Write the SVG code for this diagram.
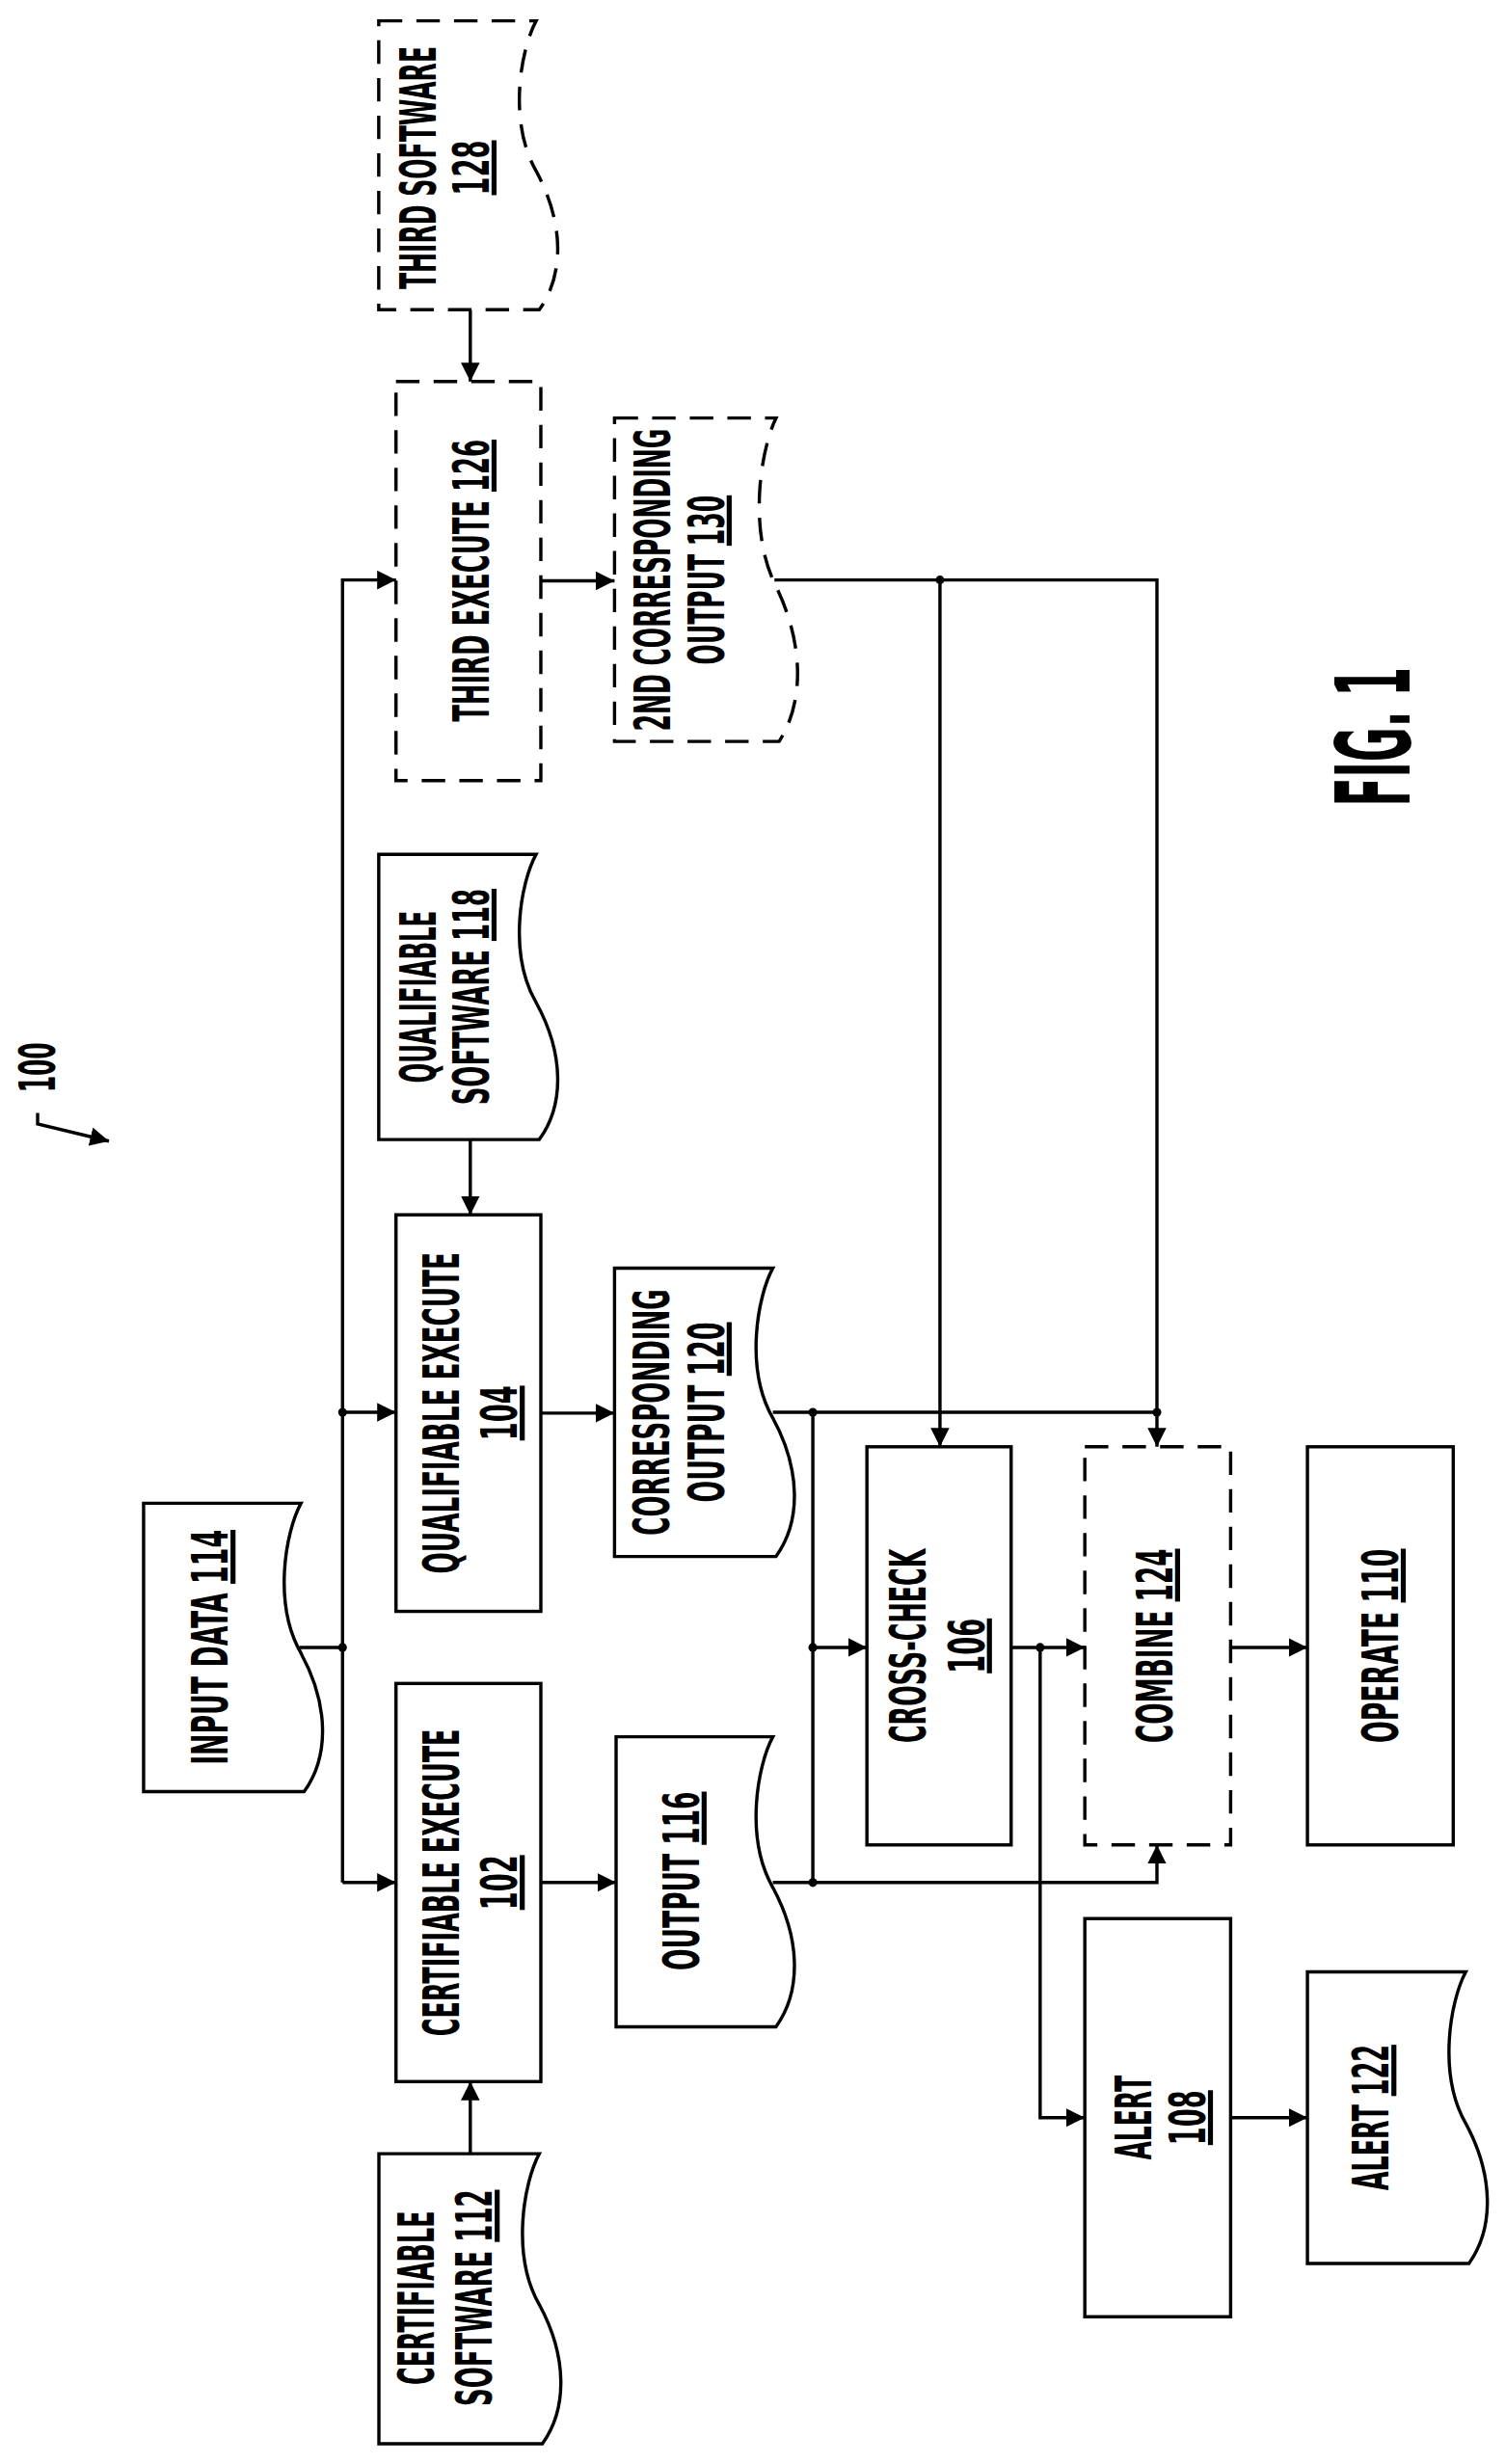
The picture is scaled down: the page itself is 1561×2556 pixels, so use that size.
<svg xmlns="http://www.w3.org/2000/svg" width="1561" height="2556" viewBox="0 0 1561 2556">
<style>
.b{fill:#fff;stroke:#000;stroke-width:2.1}
.d{fill:#fff;stroke:#000;stroke-width:2.1;stroke-dasharray:15 9}
.c{fill:none;stroke:#000;stroke-width:2.1}
.t{font-family:"DejaVu Sans Condensed","Liberation Sans",sans-serif;font-size:32px;font-weight:bold;text-anchor:middle;fill:#000}
.u{text-decoration:underline}
</style>
<defs>
<marker id="a" markerUnits="userSpaceOnUse" markerWidth="13" markerHeight="13" refX="12" refY="6" orient="auto"><path d="M0,0 L12,6 L0,12 z" fill="#000"/></marker>
</defs>
<rect width="1561" height="2556" fill="#fff"/>
<g transform="scale(1.626)">
<g id="n128"><path class="d" d="M241.6,13.3 H342 C332,31.7 324,77.8 342,109.1 C360,142.3 360,175.5 344,197.6 H241.6 Z"/>
<text class="t" transform="translate(277.7,107) rotate(-90)" textLength="155" lengthAdjust="spacingAndGlyphs">THIRD SOFTWARE</text>
<text class="t" transform="translate(311.7,107) rotate(-90)" textLength="35" lengthAdjust="spacingAndGlyphs"><tspan class="u">128</tspan></text></g>
<g id="n126"><rect class="d" x="252.6" y="243.4" width="92.4" height="254.6"/>
<text class="t" transform="translate(311.7,370.5) rotate(-90)" textLength="180" lengthAdjust="spacingAndGlyphs">THIRD EXECUTE <tspan class="u">126</tspan></text></g>
<g id="n130"><path class="d" d="M392,266.7 H495 C485,287.3 477,338.9 495,374 C513,411.1 513,448.2 497,473 H392 Z"/>
<text class="t" transform="translate(427.7,370) rotate(-90)" textLength="193" lengthAdjust="spacingAndGlyphs">2ND CORRESPONDING</text>
<text class="t" transform="translate(461.7,370) rotate(-90)" textLength="108" lengthAdjust="spacingAndGlyphs">OUTPUT <tspan class="u">130</tspan></text></g>
<g id="n118"><path class="b" d="M241.6,545 H342 C332,563.2 324,608.7 342,639.6 C360,672.4 360,705.2 344,727 H241.6 Z"/>
<text class="t" transform="translate(277.7,636) rotate(-90)" textLength="110" lengthAdjust="spacingAndGlyphs">QUALIFIABLE</text>
<text class="t" transform="translate(311.7,636) rotate(-90)" textLength="138" lengthAdjust="spacingAndGlyphs">SOFTWARE <tspan class="u">118</tspan></text></g>
<g id="n104"><rect class="b" x="252.6" y="775" width="92.4" height="253"/>
<text class="t" transform="translate(292.7,901.5) rotate(-90)" textLength="205" lengthAdjust="spacingAndGlyphs">QUALIFIABLE EXECUTE</text>
<text class="t" transform="translate(329.7,901.5) rotate(-90)" textLength="35" lengthAdjust="spacingAndGlyphs"><tspan class="u">104</tspan></text></g>
<g id="n120"><path class="b" d="M392,809 H493 C483,827.4 475,873.4 493,904.7 C511,937.8 511,970.9 495,993 H392 Z"/>
<text class="t" transform="translate(426.7,901) rotate(-90)" textLength="157" lengthAdjust="spacingAndGlyphs">CORRESPONDING</text>
<text class="t" transform="translate(461.7,901) rotate(-90)" textLength="115" lengthAdjust="spacingAndGlyphs">OUTPUT <tspan class="u">120</tspan></text></g>
<g id="n114"><path class="b" d="M91.6,959 H192 C182,977.4 174,1023.4 192,1054.7 C210,1087.8 210,1120.9 194,1143 H91.6 Z"/>
<text class="t" transform="translate(145.2,1051) rotate(-90)" textLength="150" lengthAdjust="spacingAndGlyphs">INPUT DATA <tspan class="u">114</tspan></text></g>
<g id="n102"><rect class="b" x="252.6" y="1074" width="92.4" height="254"/>
<text class="t" transform="translate(292.7,1201) rotate(-90)" textLength="196" lengthAdjust="spacingAndGlyphs">CERTIFIABLE EXECUTE</text>
<text class="t" transform="translate(329.7,1201) rotate(-90)" textLength="35" lengthAdjust="spacingAndGlyphs"><tspan class="u">102</tspan></text></g>
<g id="n116"><path class="b" d="M393,1108 H493 C483,1126.5 475,1172.8 493,1204.2 C511,1237.5 511,1270.8 495,1293 H393 Z"/>
<text class="t" transform="translate(445.7,1200) rotate(-90)" textLength="114" lengthAdjust="spacingAndGlyphs">OUTPUT <tspan class="u">116</tspan></text></g>
<g id="n112"><path class="b" d="M241.7,1374 H344 C334,1392.5 326,1438.8 344,1470.2 C362,1503.5 362,1536.8 346,1559 H241.7 Z"/>
<text class="t" transform="translate(276.7,1466) rotate(-90)" textLength="111" lengthAdjust="spacingAndGlyphs">CERTIFIABLE</text>
<text class="t" transform="translate(313.7,1466) rotate(-90)" textLength="138" lengthAdjust="spacingAndGlyphs">SOFTWARE <tspan class="u">112</tspan></text></g>
<g id="n106"><rect class="b" x="553" y="923" width="92" height="254"/>
<text class="t" transform="translate(590.7,1050) rotate(-90)" textLength="124" lengthAdjust="spacingAndGlyphs">CROSS-CHECK</text>
<text class="t" transform="translate(627.7,1050) rotate(-90)" textLength="35" lengthAdjust="spacingAndGlyphs"><tspan class="u">106</tspan></text></g>
<g id="n124"><rect class="d" x="692" y="923" width="93" height="254"/>
<text class="t" transform="translate(747.7,1050) rotate(-90)" textLength="124" lengthAdjust="spacingAndGlyphs">COMBINE <tspan class="u">124</tspan></text></g>
<g id="n110"><rect class="b" x="834" y="923" width="93" height="254"/>
<text class="t" transform="translate(891.7,1050) rotate(-90)" textLength="124" lengthAdjust="spacingAndGlyphs">OPERATE <tspan class="u">110</tspan></text></g>
<g id="n108"><rect class="b" x="692" y="1224" width="93" height="254"/>
<text class="t" transform="translate(734.3,1351) rotate(-90)" textLength="54" lengthAdjust="spacingAndGlyphs">ALERT</text>
<text class="t" transform="translate(768.7,1351) rotate(-90)" textLength="35" lengthAdjust="spacingAndGlyphs"><tspan class="u">108</tspan></text></g>
<g id="n122"><path class="b" d="M834,1258 H935 C925,1276.6 917,1323.1 935,1354.7 C953,1388.2 953,1421.7 937,1444 H834 Z"/>
<text class="t" transform="translate(885.7,1351) rotate(-90)" textLength="93" lengthAdjust="spacingAndGlyphs">ALERT <tspan class="u">122</tspan></text></g>
<g id="connectors">
<path class="c" d="M300,197.6 V243.4" marker-end="url(#a)"/>
<path class="c" d="M300,727 V775" marker-end="url(#a)"/>
<path class="c" d="M300,1374 V1328" marker-end="url(#a)"/>
<path class="c" d="M191,1051 H218.5"/>
<path class="c" d="M218.5,1201 V370 H252.6" marker-end="url(#a)"/>
<path class="c" d="M218.5,901 H252.6" marker-end="url(#a)"/>
<path class="c" d="M218.5,1201 H252.6" marker-end="url(#a)"/>
<path class="c" d="M345,370.5 H392" marker-end="url(#a)"/>
<path class="c" d="M345,901.5 H392" marker-end="url(#a)"/>
<path class="c" d="M345,1201 H393" marker-end="url(#a)"/>
<path class="c" d="M494,370 H738 V923" marker-end="url(#a)"/>
<path class="c" d="M599.6,370 V923" marker-end="url(#a)"/>
<path class="c" d="M493,901 H738"/>
<path class="c" d="M518.5,901 V1201"/>
<path class="c" d="M518.5,1051 H553" marker-end="url(#a)"/>
<path class="c" d="M493,1201 H738 V1177" marker-end="url(#a)"/>
<path class="c" d="M645,1051 H692" marker-end="url(#a)"/>
<path class="c" d="M663.5,1051 V1351 H692" marker-end="url(#a)"/>
<path class="c" d="M785,1051 H834" marker-end="url(#a)"/>
<path class="c" d="M785,1351 H834" marker-end="url(#a)"/>
<g fill="#000">
<circle cx="218.5" cy="901" r="2.8"/><circle cx="218.5" cy="1051" r="2.8"/>
<circle cx="599.6" cy="370" r="2.8"/><circle cx="738" cy="901" r="2.8"/>
<circle cx="518.5" cy="901" r="2.8"/><circle cx="518.5" cy="1051" r="2.8"/>
<circle cx="518.5" cy="1201" r="2.8"/><circle cx="663.5" cy="1051" r="2.8"/>
</g>
</g>
<text class="t" transform="translate(899,470) rotate(-90)" style="font-size:66px" textLength="89" lengthAdjust="spacingAndGlyphs">FIG. 1</text>
<text class="t" transform="translate(35.2,681) rotate(-90)" textLength="32" lengthAdjust="spacingAndGlyphs">100</text>
<path class="c" d="M24,710 V717 L69.5,728" marker-end="url(#a)"/>
</g>
</svg>
